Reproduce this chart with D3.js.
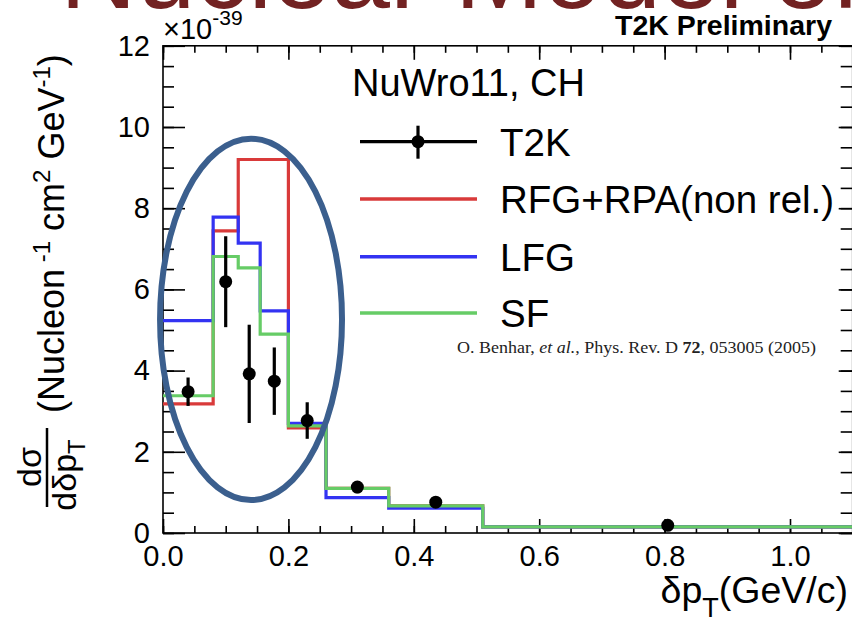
<!DOCTYPE html>
<html><head><meta charset="utf-8">
<script src="https://cdn.jsdelivr.net/npm/d3@7"></script>
<style>
body{margin:0;background:#fff}
svg{display:block}
text{font-family:"Liberation Sans",Arial,Helvetica,sans-serif;fill:#000}
</style>
</head><body>
<svg id="c" width="852" height="627"></svg>
<script>
// ---- data ----
const binEdges   = [0, 0.08, 0.12, 0.155, 0.2, 0.26, 0.36, 0.51, 1.1];
const t2kCenters = [0.04, 0.10, 0.1375, 0.1775, 0.23, 0.31, 0.435, 0.805];
const t2kValues  = [3.48, 6.19, 3.92, 3.74, 2.77, 1.13, 0.76, 0.19];
const t2kErrors  = [0.35, 1.12, 1.21, 0.83, 0.45, 0.15, 0.10, 0.06];
const rfgValues  = [3.18, 7.44, 9.20, 9.20, 2.59, 1.10, 0.67, 0.15];
const lfgValues  = [5.23, 7.78, 7.14, 5.47, 2.70, 0.87, 0.61, 0.15];
const sfValues   = [3.38, 6.81, 6.53, 4.90, 2.64, 1.10, 0.67, 0.15];
const xTickValues = [0, 0.2, 0.4, 0.6, 0.8, 1.0];
const yTickValues = [0, 2, 4, 6, 8, 10, 12];
const legendLabels = ["T2K", "RFG+RPA(non rel.)", "LFG", "SF"];
const seriesColors = ["#000000", "#d93a3a", "#3333f2", "#66cc66"];
const ellipseCenter = [0.1404, 5.26];
const ellipseRadii  = [0.1451, 4.45];

const svg = d3.select("#c");
svg.append("rect").attr("width",852).attr("height",627).attr("fill","#fff");

const x = d3.scaleLinear().domain([0,1.1]).range([163,852.7]);
const y = d3.scaleLinear().domain([0,12]).range([533,45.8]);

// title (cut off at top)
svg.append("text").attr("x",60).attr("y",8)
  .style("font-size","106px").style("fill","#722222")
  .text("Nuclear Model effects");

// axes
function styleAxis(g){ g.select(".domain").remove(); g.selectAll("line").attr("stroke","#000").attr("stroke-width",1.6); }
const minorX = d3.range(0, 1.1001, 0.05);
const minorY = d3.range(0, 12.001, 0.5);

svg.append("g").attr("transform",`translate(0,${y(0)})`)
  .call(d3.axisBottom(x).tickValues(minorX).tickSizeInner(-7).tickSizeOuter(0).tickFormat(""))
  .call(styleAxis);
svg.append("g").attr("transform",`translate(0,${y(0)})`)
  .call(d3.axisBottom(x).tickValues(xTickValues).tickSizeInner(-14).tickSizeOuter(0)
        .tickPadding(12).tickFormat(d3.format(".1f")))
  .call(styleAxis)
  .call(g=>g.selectAll("text").style("font-size","29px").attr("font-family",null));
svg.append("g").attr("transform",`translate(0,${y(12)})`)
  .call(d3.axisTop(x).tickValues(minorX).tickSizeInner(-7).tickSizeOuter(0).tickFormat(""))
  .call(styleAxis);
svg.append("g").attr("transform",`translate(0,${y(12)})`)
  .call(d3.axisTop(x).tickValues(xTickValues).tickSizeInner(-14).tickSizeOuter(0).tickFormat(""))
  .call(styleAxis);

svg.append("g").attr("transform",`translate(${x(0)},0)`)
  .call(d3.axisLeft(y).tickValues(minorY).tickSizeInner(-11).tickSizeOuter(0).tickFormat(""))
  .call(styleAxis);
svg.append("g").attr("transform",`translate(${x(0)},0)`)
  .call(d3.axisLeft(y).tickValues(yTickValues).tickSizeInner(-22).tickSizeOuter(0).tickPadding(13).tickFormat(d3.format("d")))
  .call(styleAxis)
  .call(g=>g.selectAll("text").style("font-size","29px").attr("font-family",null));
svg.append("g").attr("transform",`translate(${x(1.1)},0)`)
  .call(d3.axisRight(y).tickValues(minorY).tickSizeInner(-12).tickSizeOuter(0).tickFormat(""))
  .call(styleAxis);
svg.append("g").attr("transform",`translate(${x(1.1)},0)`)
  .call(d3.axisRight(y).tickValues(yTickValues).tickSizeInner(-14).tickSizeOuter(0).tickFormat(""))
  .call(styleAxis);

// frame
svg.append("rect").attr("x",x(0)).attr("y",y(12)).attr("width",x(1.1)-x(0)).attr("height",y(0)-y(12))
  .attr("fill","none").attr("stroke","#000").attr("stroke-width",1.6);

// exponent
const ex = svg.append("text").attr("x",163).attr("y",39).style("font-size","29px");
ex.append("tspan").text("\u00d710");
ex.append("tspan").attr("dy",-14).style("font-size","21px").text("-39");

// T2K Preliminary
svg.append("text").attr("x",832).attr("y",35).attr("text-anchor","end")
  .style("font-size","28.5px").style("font-weight","bold").text("T2K Preliminary");

// histograms
function stepData(vals){ const pts = vals.map((v,i)=>[binEdges[i],v]); pts.push([binEdges[vals.length], vals[vals.length-1]]); return pts; }
const line = d3.line().x(d=>x(d[0])).y(d=>y(d[1])).curve(d3.curveStepAfter);
svg.append("clipPath").attr("id","clip").append("rect")
  .attr("x",x(0)).attr("y",y(12)).attr("width",x(1.1)-x(0)).attr("height",y(0)-y(12));
const plot = svg.append("g").attr("clip-path","url(#clip)");
[[rfgValues,seriesColors[1]],[lfgValues,seriesColors[2]],[sfValues,seriesColors[3]]].forEach(([vals,col])=>{
  plot.append("path").attr("d",line(stepData(vals))).attr("fill","none").attr("stroke",col).attr("stroke-width",3.2);
});

// data points
const pts = plot.selectAll("g.pt").data(t2kCenters.map((c,i)=>({c,v:t2kValues[i],e:t2kErrors[i]}))).join("g");
pts.append("line").attr("x1",d=>x(d.c)).attr("x2",d=>x(d.c)).attr("y1",d=>y(d.v-d.e)).attr("y2",d=>y(d.v+d.e))
  .attr("stroke","#000").attr("stroke-width",3.2);
pts.append("circle").attr("cx",d=>x(d.c)).attr("cy",d=>y(d.v)).attr("r",6.5).attr("fill","#000");

// ellipse annotation
svg.append("ellipse").attr("cx",x(ellipseCenter[0])).attr("cy",y(ellipseCenter[1]))
  .attr("rx",x(ellipseRadii[0])-x(0)).attr("ry",y(0)-y(ellipseRadii[1]))
  .attr("fill","none").attr("stroke","#3b5f8e").attr("stroke-width",6);

// legend
svg.append("text").attr("x",352).attr("y",96).style("font-size","38px").text("NuWro11, CH");
const legY = [141.7, 199, 256.7, 313];
legendLabels.forEach((lab,i)=>{
  svg.append("line").attr("x1",360).attr("x2",477).attr("y1",legY[i]).attr("y2",legY[i])
    .attr("stroke",seriesColors[i]).attr("stroke-width",i===0?3.2:3.6);
  if(i===0){
    svg.append("line").attr("x1",418).attr("x2",418).attr("y1",legY[i]-16).attr("y2",legY[i]+17).attr("stroke","#000").attr("stroke-width",3.2);
    svg.append("circle").attr("cx",418).attr("cy",legY[i]).attr("r",6.5).attr("fill","#000");
  }
  svg.append("text").attr("x",500).attr("y",legY[i]+14).style("font-size","38.5px").text(lab);
});

// citation
const cit = svg.append("text").attr("x",457).attr("y",353)
  .attr("textLength",359).attr("lengthAdjust","spacingAndGlyphs")
  .style("font-family","'Liberation Serif','Times New Roman',serif").style("font-size","17px").style("fill","#222");
cit.append("tspan").text("O. Benhar, ");
cit.append("tspan").style("font-style","italic").text("et al.");
cit.append("tspan").text(", Phys. Rev. D ");
cit.append("tspan").style("font-weight","bold").text("72");
cit.append("tspan").text(", 053005 (2005)");

// x axis title
const xt = svg.append("text").attr("x",848).attr("y",603).attr("text-anchor","end").style("font-size","37.5px");
xt.append("tspan").text("\u03b4p");
xt.append("tspan").attr("dy",14).style("font-size","27px").text("T");
xt.append("tspan").attr("dy",-14).text("(GeV/c)");

// y axis title
const yt = svg.append("g");
const yu = yt.append("text").attr("transform","translate(64,413) rotate(-90)").style("font-size","36px");
yu.append("tspan").text("(Nucleon");
yu.append("tspan").attr("dy",-14).style("font-size","24px").text(" -1");
yu.append("tspan").attr("dy",14).text(" cm");
yu.append("tspan").attr("dy",-14).style("font-size","24px").text("2");
yu.append("tspan").attr("dy",14).text(" GeV");
yu.append("tspan").attr("dy",-14).style("font-size","24px").text("-1");
yu.append("tspan").attr("dy",14).text(")");
yt.append("line").attr("x1",47).attr("x2",47).attr("y1",428).attr("y2",507).attr("stroke","#000").attr("stroke-width",2.5);
yt.append("text").attr("transform","translate(41,467) rotate(-90)").attr("text-anchor","middle").style("font-size","34px").text("d\u03c3");
const yb = yt.append("text").attr("transform","translate(76,475) rotate(-90)").attr("text-anchor","middle").style("font-size","34px");
yb.append("tspan").text("d\u03b4p");
yb.append("tspan").attr("dy",9).style("font-size","24px").text("T");
</script>
</body></html>
